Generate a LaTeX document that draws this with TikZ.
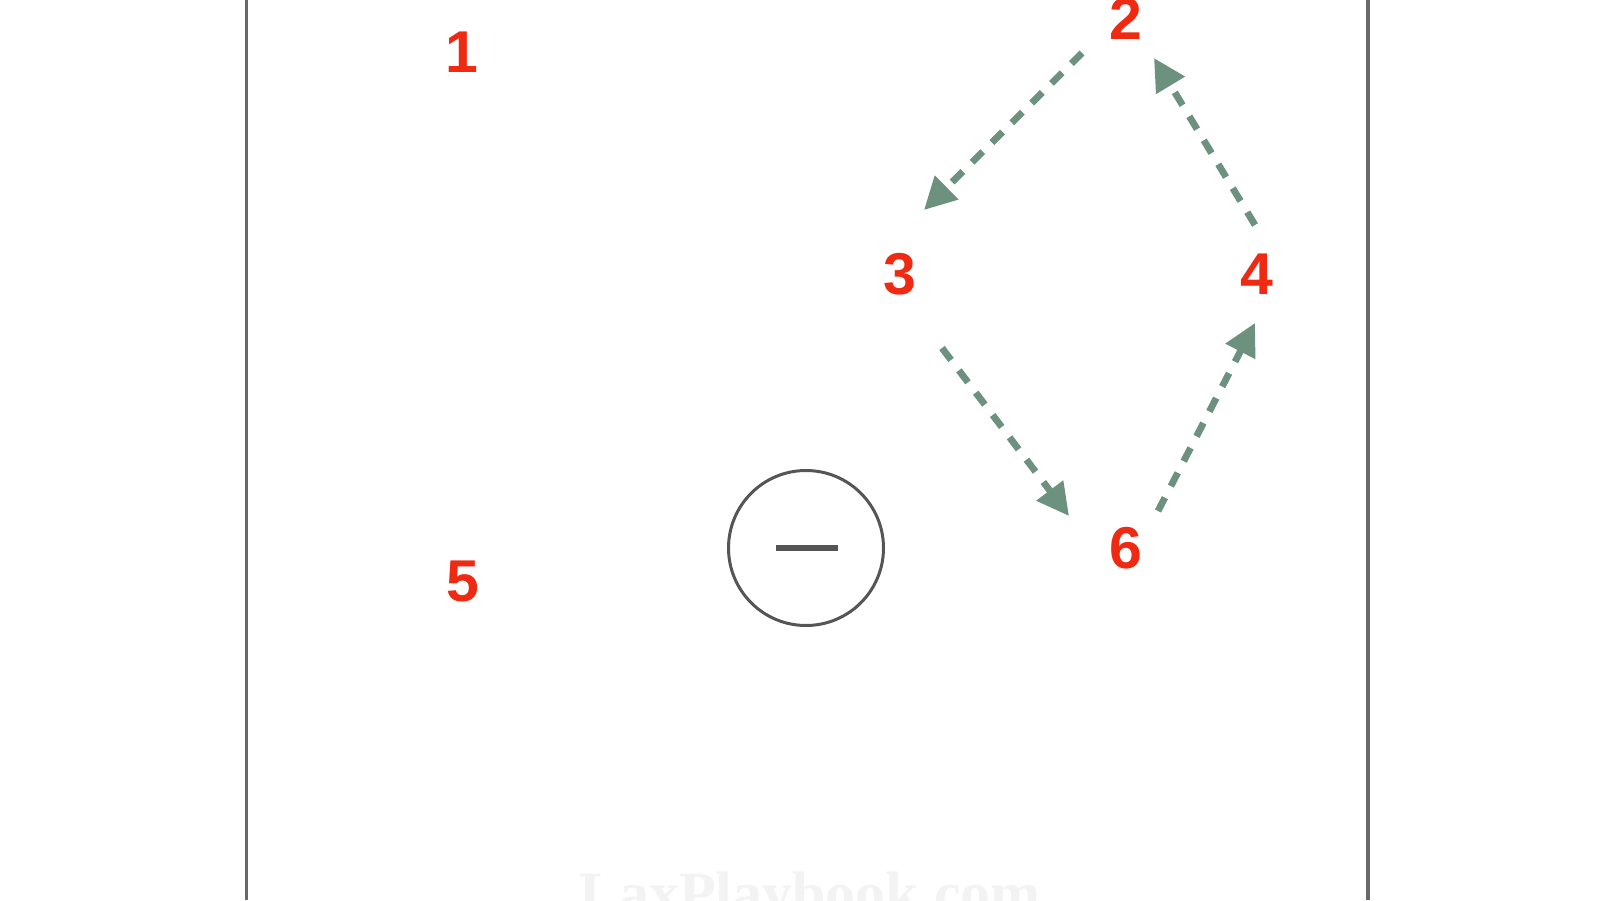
\documentclass[tikz,border=0pt]{standalone}
\usepackage{fontspec}
\setmainfont{Liberation Sans}
\newfontfamily\wmfont{Liberation Serif}
\usetikzlibrary{arrows.meta}
\definecolor{numred}{RGB}{238,42,18}
\definecolor{arrowgreen}{RGB}{108,145,126}
\definecolor{bordergray}{RGB}{105,105,105}
\definecolor{circgray}{RGB}{85,85,85}
\definecolor{wmgray}{RGB}{243,243,243}
\tikzset{
  player/.style={text=numred, inner sep=0pt, font=\fontsize{59}{60}\selectfont\bfseries},
  cutarrow/.style={draw=arrowgreen, line width=6.8pt, dash pattern=on 15pt off 13pt,
    -{Triangle[length=32pt,width=32pt,fill=arrowgreen]}},
  sideline/.style={draw=bordergray, line width=3.5pt},
}
\begin{document}
\begin{tikzpicture}[x=1pt,y=-1pt]
\useasboundingbox (0,0) rectangle (1600,900);
\fill[white] (0,0) rectangle (1600,900);
% watermark
\node[text=wmgray, font=\fontsize{60}{62}\selectfont\wmfont\bfseries, anchor=base, inner sep=0pt] (wm) at (810,913) {LaxPlaybook.com};
% side lines
\coordinate (lt) at (246.5,0); \coordinate (lb) at (246.5,900);
\coordinate (rt) at (1368,0); \coordinate (rb) at (1368,900);
\draw[sideline] (lt) -- (lb);
\draw[sideline] (rt) -- (rb);
% goal crease
\node[draw=circgray, line width=3pt, circle, minimum size=155pt, inner sep=0pt] (crease) at (806,548) {};
\coordinate (mL) at (776,548); \coordinate (mR) at (838,548);
\draw[circgray, line width=6.5pt] (mL) -- (mR);
% players
\node[player] (p1) at (462,52) {1};
\node[player] (p2) at (1126,19) {2};
\node[player] (p3) at (900,274) {3};
\node[player] (p4) at (1257,274) {4};
\node[player] (p5) at (463,581) {5};
\node[player] (p6) at (1126,548) {6};
% arrow ends
\coordinate (a23s) at (1082,53);  \coordinate (a23e) at (924,210);
\coordinate (a42s) at (1255,225); \coordinate (a42e) at (1154,58);
\coordinate (a36s) at (942,348);  \coordinate (a36e) at (1069,516);
\coordinate (a64s) at (1158,511); \coordinate (a64e) at (1255,323);
\draw[cutarrow] (a23s) -- (a23e);
\draw[cutarrow] (a42s) -- (a42e);
\draw[cutarrow] (a36s) -- (a36e);
\draw[cutarrow] (a64s) -- (a64e);
\end{tikzpicture}
\end{document}
